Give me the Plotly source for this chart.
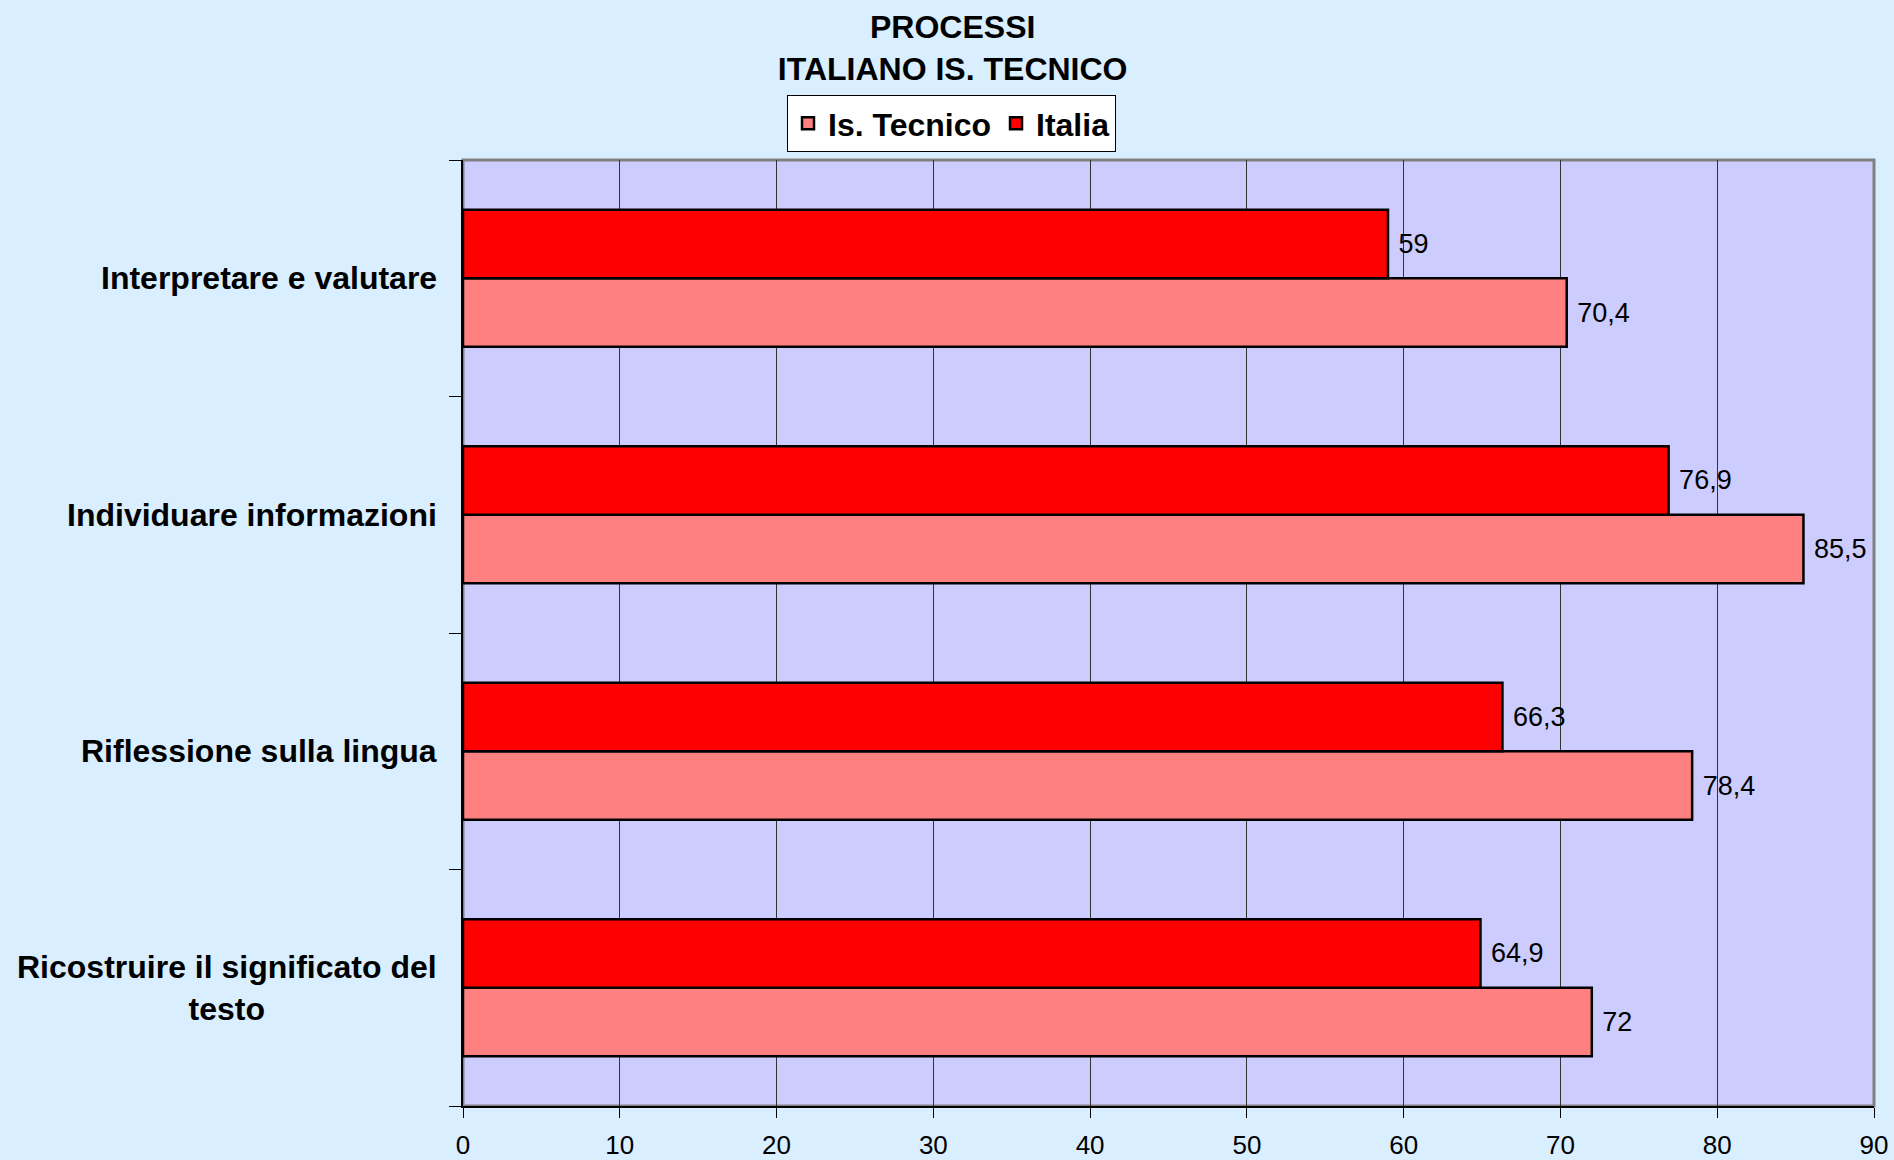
import plotly.graph_objects as go

categories = [
    "Ricostruire il significato del<br>testo",
    "Riflessione sulla lingua",
    "Individuare informazioni",
    "Interpretare e valutare",
]
is_tecnico = [72, 78.4, 85.5, 70.4]
italia = [64.9, 66.3, 76.9, 59]
x_ticks = [0, 10, 20, 30, 40, 50, 60, 70, 80, 90]

FONT = "Liberation Sans"


def fmt(v):
    return "\u00a0" + f"{v:g}".replace(".", ",")


fig = go.Figure()
fig.add_trace(go.Bar(
    name="Is. Tecnico", y=categories, x=is_tecnico, orientation="h",
    marker=dict(color="#FF8080", line=dict(color="black", width=2.5)),
    text=[fmt(v) for v in is_tecnico], textposition="outside",
    textfont=dict(size=27, color="black", family=FONT), cliponaxis=False,
))
fig.add_trace(go.Bar(
    name="Italia", y=categories, x=italia, orientation="h",
    marker=dict(color="#FF0000", line=dict(color="black", width=2.5)),
    text=[fmt(v) for v in italia], textposition="outside",
    textfont=dict(size=27, color="black", family=FONT), cliponaxis=False,
))

for c in categories:
    fig.add_annotation(
        x=-0.017, xref="paper", y=c, yref="y", text=c, showarrow=False,
        xanchor="right", yanchor="middle", align="center",
        font=dict(size=32, color="black", family=FONT, weight="bold"),
    )

fig.add_shape(type="rect", xref="paper", yref="paper", x0=0, x1=1, y0=0, y1=1,
              line=dict(color="#808080", width=3), layer="below")

fig.update_layout(
    width=1894, height=1160,
    margin=dict(l=463, r=20, t=160, b=54, autoexpand=False),
    paper_bgcolor="#D9EEFE", plot_bgcolor="#CCCCFF",
    barmode="group", bargap=0.42, bargroupgap=0,
    font=dict(family=FONT, color="black"),
    title=dict(
        text="PROCESSI<br>ITALIANO IS. TECNICO",
        x=0.503, xanchor="center", xref="container",
        y=1 - 38 / 1160, yanchor="top", yref="container",
        font=dict(size=32, color="black", family=FONT, weight="bold"),
    ),
    legend=dict(
        orientation="h", x=(787 - 463) / 1411, xanchor="left", y=1.0687, yanchor="top",
        bgcolor="white", bordercolor="black", borderwidth=1,
        font=dict(size=32, color="black", family=FONT, weight="bold"),
        traceorder="normal",
    ),
    showlegend=True,
)
fig.update_xaxes(
    range=[0, 90], tickvals=x_ticks, ticktext=[str(t) for t in x_ticks],
    showgrid=True, gridcolor="#333333", gridwidth=1,
    showline=True, linecolor="black", linewidth=2,
    ticks="outside", ticklen=10, tickcolor="black", tickwidth=1,
    tickfont=dict(size=26, color="black", family=FONT),
    ticklabelstandoff=5, zeroline=False, automargin=False,
)
fig.update_yaxes(
    categoryorder="array", categoryarray=categories,
    showticklabels=False, showgrid=False,
    showline=True, linecolor="black", linewidth=2,
    ticks="outside", tickson="boundaries", ticklen=12, tickcolor="black", tickwidth=1,
    automargin=False,
)

fig.write_html(
    "out.html",
    config={"displayModeBar": False},
    post_script="document.body.style.margin='0';document.body.style.overflow='hidden';",
)
